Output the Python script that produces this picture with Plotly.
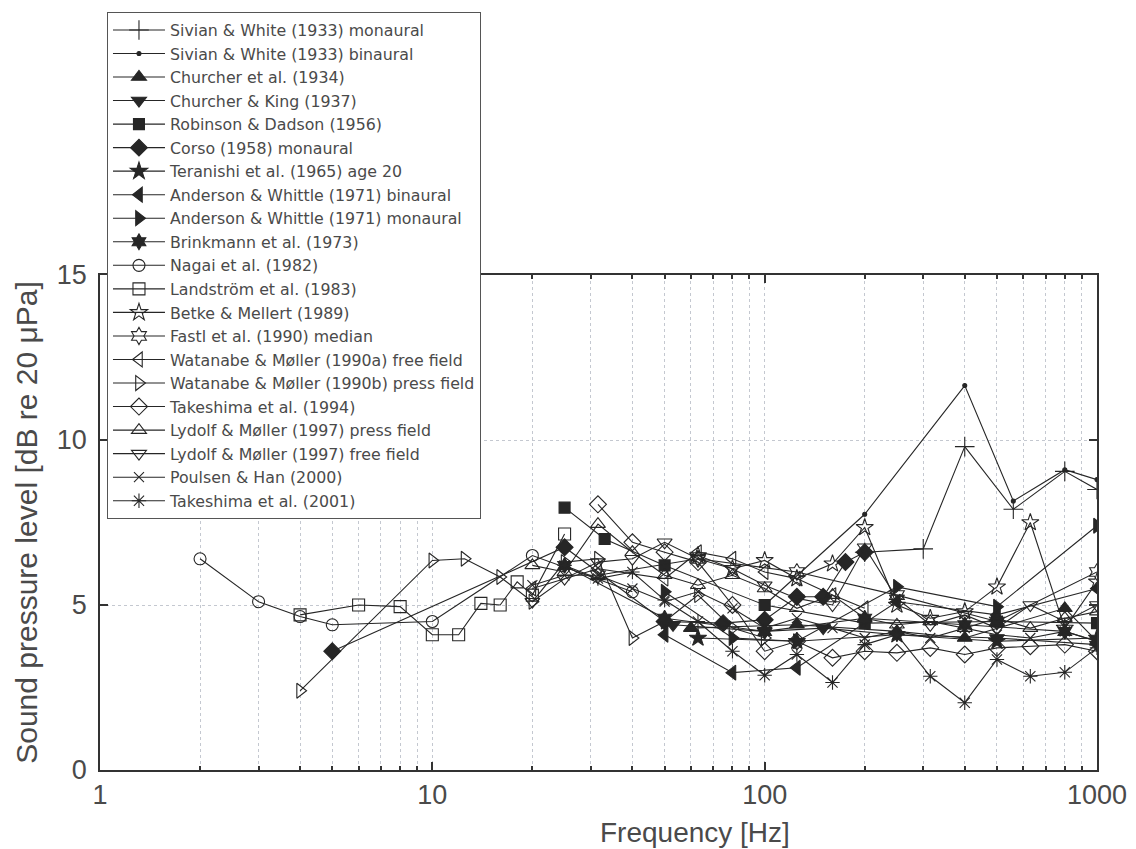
import plotly.graph_objects as go

# ---------------- data ----------------
names = [
    "Sivian & White (1933) monaural",
    "Sivian & White (1933) binaural",
    "Churcher et al. (1934)",
    "Churcher & King (1937)",
    "Robinson & Dadson (1956)",
    "Corso (1958) monaural",
    "Teranishi et al. (1965) age 20",
    "Anderson & Whittle (1971) binaural",
    "Anderson & Whittle (1971) monaural",
    "Brinkmann et al. (1973)",
    "Nagai et al. (1982)",
    "Landström et al. (1983)",
    "Betke & Mellert (1989)",
    "Fastl et al. (1990) median",
    "Watanabe & Møller (1990a) free field",
    "Watanabe & Møller (1990b) press field",
    "Takeshima et al. (1994)",
    "Lydolf & Møller (1997) press field",
    "Lydolf & Møller (1997) free field",
    "Poulsen & Han (2000)",
    "Takeshima et al. (2001)",
]

sivian_mon_f = [200, 300, 400, 560, 800, 1000]
sivian_mon_v = [6.6, 6.7, 9.8, 7.9, 9.05, 8.5]

sivian_bin_f = [100, 200, 400, 560, 800, 1000]
sivian_bin_v = [5.0, 7.75, 11.65, 8.15, 9.1, 8.8]

churcher34_f = [60, 125, 250, 400, 800, 1000]
churcher34_v = [4.3, 4.4, 4.2, 4.0, 4.9, 3.9]

churcher37_f = [53, 100, 150, 250, 500, 1000]
churcher37_v = [4.4, 4.2, 4.3, 4.1, 4.0, 3.8]

robinson_f = [25, 33, 50, 100, 200, 500, 1000]
robinson_v = [7.95, 7.0, 6.2, 5.0, 4.45, 4.5, 4.45]

corso_f = [5, 25, 50, 75, 100, 125, 150, 175, 200]
corso_v = [3.6, 6.75, 4.5, 4.45, 4.55, 5.25, 5.25, 6.3, 6.6]

teranishi_f = [63, 125, 250, 500, 1000]
teranishi_v = [4.0, 3.9, 4.1, 3.9, 4.0]

anderson_bin_f = [50, 80, 125, 250, 500, 1000]
anderson_bin_v = [4.1, 2.95, 3.1, 5.1, 4.7, 5.5]

anderson_mon_f = [50, 80, 125, 250, 500, 1000]
anderson_mon_v = [5.4, 4.0, 3.9, 5.55, 4.95, 7.4]

brinkmann_f = [25, 50, 100, 200, 400, 800, 1000]
brinkmann_v = [6.2, 4.6, 4.2, 4.6, 4.4, 4.2, 3.9]

nagai_f = [2, 3, 4, 5, 10, 20, 40]
nagai_v = [6.4, 5.1, 4.65, 4.4, 4.5, 6.5, 5.4]

landstrom_f = [4, 6, 8, 10, 12, 14, 16, 18, 20, 25]
landstrom_v = [4.7, 5.0, 4.95, 4.1, 4.1, 5.05, 5.0, 5.7, 5.3, 7.15]

betke_f = [63, 80, 100, 125, 160, 200, 250, 315, 400, 500, 630, 800, 1000]
betke_v = [6.5, 6.1, 6.35, 5.8, 6.25, 7.35, 5.0, 4.6, 4.8, 5.55, 7.5, 4.3, 5.7]

fastl_f = [31.5, 63, 125, 250, 500, 1000]
fastl_v = [5.9, 6.4, 6.0, 5.3, 4.5, 6.0]

watanabe_a_f = [20, 31.5, 50, 63, 80, 100, 125, 160, 200]
watanabe_a_v = [5.5, 6.1, 5.8, 6.6, 6.4, 6.0, 5.8, 5.3, 4.9]

watanabe_b_f = [4, 10, 12.5, 16, 20, 25, 31.5, 40, 50, 63, 80, 100]
watanabe_b_v = [2.4, 6.35, 6.4, 5.85, 5.1, 6.3, 6.4, 4.0, 4.5, 5.3, 4.3, 4.0]

takeshima94_f = [31.5, 40, 50, 63, 80, 100, 125, 160, 200, 250, 315, 400, 500, 630, 800, 1000]
takeshima94_v = [8.05, 6.9, 6.6, 6.3, 5.0, 3.6, 3.9, 3.4, 3.6, 3.55, 3.7, 3.5, 3.7, 3.75, 3.8, 3.6]

lydolf_p_f = [20, 25, 31.5, 40, 50, 63, 80, 100, 125, 160, 200, 250, 315, 400, 500, 630, 800, 1000]
lydolf_p_v = [6.2, 6.0, 7.45, 6.6, 5.9, 5.6, 5.9, 5.5, 4.9, 5.3, 4.6, 4.4, 4.5, 4.3, 4.6, 4.3, 4.6, 4.8]

lydolf_f_f = [20, 25, 31.5, 40, 50, 63, 80, 100, 125, 160, 200, 250, 315, 400, 500, 630, 800, 1000]
lydolf_f_v = [5.1, 5.8, 6.3, 6.4, 6.9, 6.4, 6.1, 5.6, 5.2, 5.0, 6.75, 5.2, 4.4, 4.7, 4.3, 5.0, 4.5, 5.0]

poulsen_f = [20, 25, 31.5, 40, 50, 63, 80, 100, 125, 160, 200, 250, 315, 400, 500, 630, 800, 1000]
poulsen_v = [5.6, 5.9, 5.9, 5.5, 5.1, 5.4, 4.9, 4.3, 4.6, 4.3, 4.0, 4.2, 4.0, 4.3, 4.1, 4.0, 4.2, 3.9]

takeshima01_f = [25, 31.5, 40, 50, 63, 80, 100, 125, 160, 200, 250, 315, 400, 500, 630, 800, 1000]
takeshima01_v = [6.2, 5.8, 6.0, 5.15, 4.5, 3.6, 2.87, 3.5, 2.65, 3.8, 4.1, 2.84, 2.04, 3.35, 2.84, 2.96, 3.7]

series_f = [sivian_mon_f, sivian_bin_f, churcher34_f, churcher37_f, robinson_f, corso_f,
            teranishi_f, anderson_bin_f, anderson_mon_f, brinkmann_f, nagai_f, landstrom_f,
            betke_f, fastl_f, watanabe_a_f, watanabe_b_f, takeshima94_f, lydolf_p_f,
            lydolf_f_f, poulsen_f, takeshima01_f]
series_v = [sivian_mon_v, sivian_bin_v, churcher34_v, churcher37_v, robinson_v, corso_v,
            teranishi_v, anderson_bin_v, anderson_mon_v, brinkmann_v, nagai_v, landstrom_v,
            betke_v, fastl_v, watanabe_a_v, watanabe_b_v, takeshima94_v, lydolf_p_v,
            lydolf_f_v, poulsen_v, takeshima01_v]

x_tick_vals = [1, 10, 100, 1000]
x_tick_text = ["1", "10", "100", "1000"]
y_tick_vals = [0, 5, 10, 15]
x_title = "Frequency [Hz]"
y_title = "Sound pressure level [dB re 20 μPa]"

# ---------------- styles ----------------
symbols = ["cross-thin-open", "circle", "triangle-up", "triangle-down", "square", "diamond",
           "star", "triangle-left", "triangle-right", "hexagram", "circle-open", "square-open",
           "star-open", "hexagram-open", "triangle-left-open", "triangle-right-open",
           "diamond-open", "triangle-up-open", "triangle-down-open", "x-thin-open",
           "asterisk-open"]
sizes = [14, 4, 13, 13, 11, 13, 13, 13, 13, 12, 12, 12, 13, 13, 13, 13, 13, 13, 13, 10, 12]

ink = "#262626"
text_col = "#4a4a4a"
grid_col = "#c4c8d0"
font_fam = "Liberation Sans, Arial, sans-serif"
legend_fam = "DejaVu Sans, Liberation Sans, sans-serif"

fig = go.Figure()
for nm, f, v, s, sz in zip(names, series_f, series_v, symbols, sizes):
    fig.add_trace(go.Scatter(
        x=f, y=v, name=nm, mode="lines+markers",
        line=dict(color=ink, width=1.1),
        marker=dict(symbol=s, size=sz, color=ink, line=dict(color=ink, width=1.1)),
    ))

axis_common = dict(
    showline=True, linecolor="#333", linewidth=1.5, mirror="ticks",
    ticks="inside", tickcolor="#333", tickwidth=1.5, ticklen=8,
    tickfont=dict(family=font_fam, size=27, color=text_col),
    showgrid=True, gridcolor=grid_col, griddash="dot", gridwidth=1,
    zeroline=False, automargin=False,
)

fig.update_xaxes(
    type="log", range=[0, 3],
    tickvals=x_tick_vals, ticktext=x_tick_text,
    ticklabelstandoff=0,
    minor=dict(ticks="inside", ticklen=4, tickcolor="#333", dtick="D1",
               showgrid=True, gridcolor=grid_col, griddash="dot"),
    **axis_common,
)
fig.update_yaxes(
    range=[0, 15], tickvals=y_tick_vals,
    ticklabelstandoff=6,
    title=dict(text=y_title, standoff=10,
               font=dict(family=font_fam, size=30, color=text_col)),
    **axis_common,
)

fig.add_annotation(
    text=x_title, xref="paper", yref="paper", x=0.597, y=-0.126,
    xanchor="center", yanchor="middle", showarrow=False,
    font=dict(family=font_fam, size=28, color=text_col),
)

# page body adds an 8 px margin, so the figure is 8 px smaller and margins shifted
fig.update_layout(
    width=1128, height=841,
    margin=dict(l=92, r=39, t=267, b=79, autoexpand=False),
    paper_bgcolor="white", plot_bgcolor="white",
    showlegend=True,
    legend=dict(
        x=0.007, y=1.531, xanchor="left", yanchor="top",
        bgcolor="white", bordercolor="#555", borderwidth=1,
        font=dict(family=legend_fam, size=15.8, color=text_col),
        itemwidth=52, tracegroupgap=0, maxheight=700,
    ),
)

fig.write_html("out.html")
